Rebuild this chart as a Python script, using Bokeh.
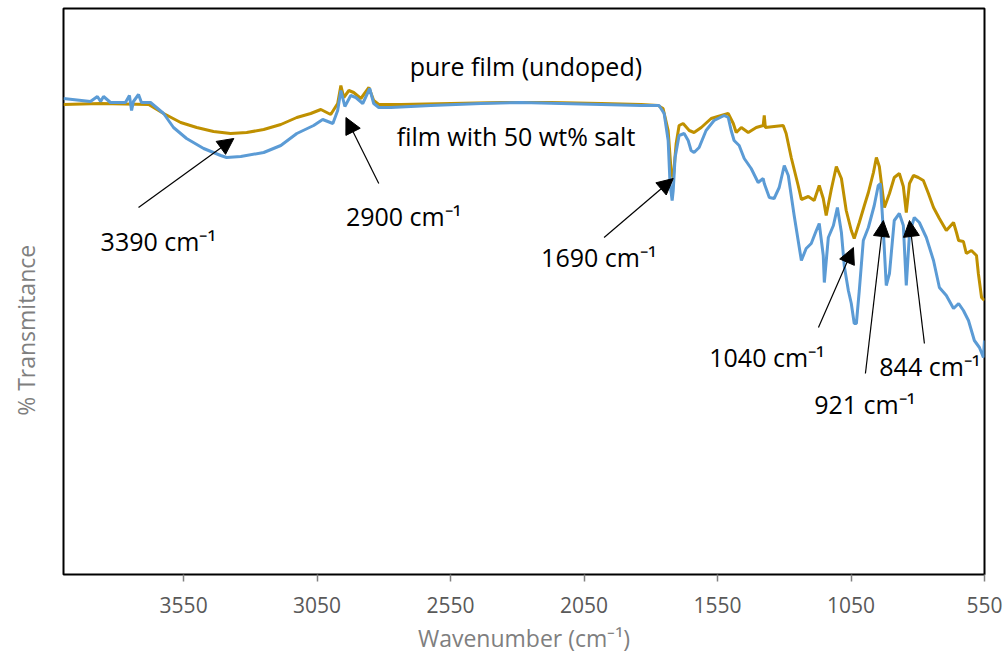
from bokeh.plotting import figure
from bokeh.models import Range1d, Label, Arrow, NormalHead, FixedTicker
from bokeh.embed import file_html
from bokeh.resources import INLINE

# ---- data ----
x_ticks = [3550, 3050, 2550, 2050, 1550, 1050, 550]

pure_wn = [4000, 3861, 3681, 3625, 3561, 3501, 3438, 3374, 3314, 3250,
           3186, 3126, 3074, 3036, 2999, 2973, 2961, 2950, 2931, 2913,
           2886, 2856, 2838, 2819, 2736, 2549, 2361, 2174, 1986, 1836,
           1773, 1754, 1735, 1724, 1716, 1705, 1694, 1679, 1656, 1638,
           1611, 1574, 1536, 1510, 1491, 1480, 1461, 1435, 1405, 1379,
           1375, 1371, 1338, 1304, 1293, 1274, 1248, 1236, 1210, 1188,
           1169, 1154, 1143, 1124, 1105, 1086, 1068, 1049, 1038, 1019,
           1000, 985, 966, 955, 944, 925, 906, 888, 869, 854,
           843, 831, 816, 798, 779, 760, 741, 719, 693, 666,
           655, 647, 629, 618, 599, 580, 573, 561, 550]
pure_t = [94.0, 94.2, 94.0, 92.2, 90.4, 89.4, 88.6, 88.2, 88.4, 89.0,
          90.0, 91.4, 92.2, 93.0, 92.0, 94.2, 97.8, 95.4, 96.8, 96.4,
          95.2, 97.4, 94.8, 94.0, 94.0, 94.2, 94.4, 94.4, 94.2, 94.0,
          93.8, 93.2, 88.8, 80.8, 79.2, 86.2, 89.8, 90.2, 88.8, 88.4,
          89.4, 91.2, 91.8, 92.2, 90.2, 88.4, 89.4, 88.4, 89.4, 89.8,
          91.8, 89.4, 89.6, 89.8, 88.2, 83.4, 77.8, 75.0, 75.6, 74.8,
          77.8, 75.2, 71.8, 77.0, 81.6, 79.2, 72.8, 68.8, 67.2, 70.4,
          73.8, 76.4, 80.4, 83.4, 81.6, 73.4, 76.2, 79.4, 80.2, 77.6,
          72.4, 78.2, 79.8, 79.4, 78.8, 76.2, 73.4, 71.2, 68.8, 70.4,
          68.4, 66.8, 66.6, 64.2, 64.8, 63.8, 60.2, 55.4, 54.8]

salt_wn = [4000, 3899, 3873, 3861, 3850, 3824, 3768, 3753, 3745, 3738,
           3719, 3708, 3674, 3625, 3588, 3539, 3475, 3411, 3389, 3336,
           3250, 3186, 3126, 3063, 3029, 2991, 2973, 2961, 2946, 2924,
           2905, 2879, 2853, 2838, 2819, 2774, 2624, 2436, 2286, 2136,
           1986, 1836, 1769, 1750, 1735, 1728, 1720, 1716, 1709, 1694,
           1675, 1660, 1649, 1638, 1619, 1593, 1563, 1525, 1510, 1499,
           1488, 1469, 1450, 1424, 1398, 1379, 1375, 1356, 1338, 1319,
           1300, 1285, 1263, 1236, 1218, 1199, 1180, 1169, 1154, 1150,
           1135, 1116, 1101, 1086, 1075, 1060, 1049, 1038, 1030, 1019,
           1004, 985, 963, 948, 940, 929, 918, 906, 888, 869,
           854, 843, 831, 813, 794, 768, 741, 719, 693, 666,
           647, 629, 610, 588, 569, 554, 550]
salt_t = [95.2, 94.6, 95.6, 94.6, 95.6, 94.4, 94.4, 95.8, 92.8, 94.6,
          96.0, 94.4, 94.4, 92.2, 89.4, 87.2, 85.2, 83.8, 83.4, 83.6,
          84.4, 85.8, 88.2, 89.8, 91.0, 90.2, 92.8, 96.8, 93.6, 95.8,
          95.4, 94.2, 97.2, 94.2, 93.4, 93.4, 93.8, 94.2, 94.4, 94.2,
          94.0, 93.8, 93.8, 92.2, 86.8, 78.2, 74.8, 76.8, 83.4, 87.8,
          88.2, 86.8, 84.8, 84.4, 85.4, 88.8, 90.8, 91.8, 91.4, 88.8,
          86.8, 85.8, 83.2, 81.2, 78.4, 79.2, 78.2, 75.4, 75.2, 77.4,
          81.8, 79.8, 71.8, 62.8, 65.2, 66.2, 68.8, 70.2, 63.8, 58.4,
          67.4, 69.8, 73.4, 68.4, 61.6, 56.8, 54.2, 50.2, 50.2, 56.8,
          66.8, 69.4, 73.8, 77.8, 78.2, 68.8, 57.8, 60.2, 70.8, 72.2,
          69.8, 57.8, 68.2, 71.4, 70.4, 67.4, 62.8, 57.4, 55.8, 53.2,
          54.2, 52.8, 50.8, 46.8, 45.4, 43.4, 46.8]

FONT = "Open Sans"
GOLD = "#BF9000"
BLUE = "#5B9BD5"

p = figure(width=1003, height=658, x_range=Range1d(4000, 550), y_range=Range1d(0, 113.2),
           output_backend="svg", toolbar_location=None,
           min_border_left=63, min_border_right=19, min_border_top=8, min_border_bottom=84)
p.grid.visible = False
p.outline_line_color = "black"
p.outline_line_width = 2
p.background_fill_color = "white"

xa = p.xaxis[0]
xa.ticker = FixedTicker(ticks=x_ticks)
xa.axis_line_color = None
xa.major_tick_line_color = "#808080"
xa.major_tick_line_width = 1.5
xa.major_tick_out = 7
xa.major_tick_in = 0
xa.minor_tick_line_color = None
xa.major_label_text_font = FONT
xa.major_label_text_font_size = "21px"
xa.major_label_text_color = "#595959"
xa.major_label_standoff = 15
xa.axis_label = "Wavenumber (cm\u207b\u00b9)"
xa.axis_label_text_font = FONT
xa.axis_label_text_font_size = "23px"
xa.axis_label_text_font_style = "normal"
xa.axis_label_text_color = "#7F7F7F"
xa.axis_label_standoff = 6

ya = p.yaxis[0]
ya.ticker = FixedTicker(ticks=[])
ya.axis_line_color = None
ya.major_tick_line_color = None
ya.minor_tick_line_color = None
ya.major_label_text_font_size = "0px"
# trailing no-break spaces push the visible title a little below the frame's middle,
# as in the reference
ya.axis_label = "% Transmitance" + "\u00a0" * 13
ya.axis_label_text_font = FONT
ya.axis_label_text_font_size = "23px"
ya.axis_label_text_font_style = "normal"
ya.axis_label_text_color = "#7F7F7F"
ya.axis_label_standoff = 22

p.line(pure_wn, pure_t, line_color=GOLD, line_width=3)
p.line(salt_wn, salt_t, line_color=BLUE, line_width=3)

def label(x, y, text, align="left"):
    p.add_layout(Label(x=x, y=y, text=text, text_font=FONT, text_font_size="25px",
                       text_color="black", text_baseline="middle", text_align=align))

def arrow(x0, y0, x1, y1):
    p.add_layout(Arrow(end=NormalHead(size=16, fill_color="black", line_color="black"),
                       x_start=x0, y_start=y0, x_end=x1, y_end=y1,
                       line_color="black", line_width=1.2))

label(2268, 101.8, "pure film (undoped)", "center")
label(2305, 87.8, "film with 50 wt% salt", "center")
label(3861, 66.8, "3390 cm\u207b\u00b9")
label(2942, 71.8, "2900 cm\u207b\u00b9")
label(2211, 63.6, "1690 cm\u207b\u00b9")
label(1581, 43.6, "1040 cm\u207b\u00b9")
label(1188, 34.2, "921 cm\u207b\u00b9")
label(944, 41.8, "844 cm\u207b\u00b9")

arrow(3719, 73.4, 3362, 87.2)
arrow(2819, 78.2, 2942, 91.4)
arrow(1975, 67.4, 1716, 79.2)
arrow(1172, 49.4, 1041, 65.4)
arrow(996, 40.2, 929, 70.8)
arrow(775, 46.2, 831, 70.8)

open("out.html", "w").write(file_html(p, INLINE))
